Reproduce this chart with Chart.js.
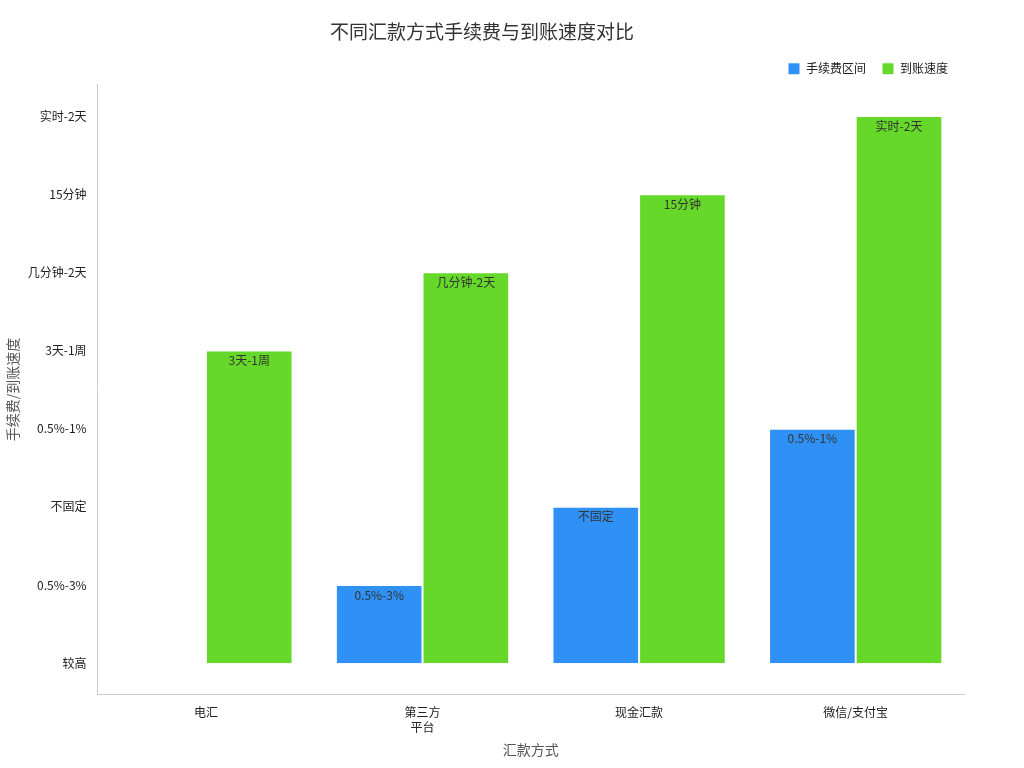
<!DOCTYPE html>
<html><head><meta charset="utf-8">
<script src="https://cdn.jsdelivr.net/npm/chart.js@4"></script>
<style>html,body{margin:0;background:#fff}#wrap{width:1024px;height:768px}</style>
</head><body><div id="wrap"><canvas id="c"></canvas></div>
<script>
const categories = [['电汇'], ['第三方', '平台'], ['现金汇款'], ['微信/支付宝']];
const levelLabels = ['较高', '0.5%-3%', '不固定', '0.5%-1%', '3天-1周', '几分钟-2天', '15分钟', '实时-2天'];
const feeValues = [0, 1, 2, 3];
const speedValues = [4, 5, 6, 7];
const font = "'Noto Sans CJK SC', 'Noto Sans', sans-serif";

const barLabels = {
  id: 'barLabels',
  afterDatasetsDraw(chart) {
    const ctx = chart.ctx;
    ctx.save();
    ctx.font = '12px ' + font;
    ctx.fillStyle = '#333';
    ctx.textAlign = 'center';
    ctx.textBaseline = 'top';
    chart.data.datasets.forEach((ds, i) => {
      chart.getDatasetMeta(i).data.forEach((bar, j) => {
        const v = ds.data[j];
        if (v <= 0) return;
        ctx.fillText(levelLabels[v], bar.x, bar.y + 4);
      });
    });
    ctx.restore();
  }
};

new Chart(document.getElementById('c'), {
  type: 'bar',
  data: {
    labels: categories,
    datasets: [
      { label: '手续费区间', data: feeValues, backgroundColor: '#2f90f5', borderColor: '#fff', borderWidth: 1 },
      { label: '到账速度', data: speedValues, backgroundColor: '#65d82a', borderColor: '#fff', borderWidth: 1 }
    ]
  },
  options: {
    responsive: true, maintainAspectRatio: false, animation: false,
    layout: { padding: { left: 0, right: 60, top: 10, bottom: 6 } },
    categoryPercentage: 0.8, barPercentage: 1,
    scales: {
      x: {
        grid: { display: false }, border: { color: '#ccc' },
        ticks: { color: '#222', font: { size: 12, family: font } },
        title: { display: true, text: '汇款方式', color: '#555', font: { size: 14, family: font } }
      },
      y: {
        min: -0.4, max: 7.4,
        afterBuildTicks: axis => { axis.ticks = levelLabels.map((_, i) => ({ value: i })); },
        grid: { display: false, drawTicks: true }, border: { color: '#ccc' },
        ticks: { color: '#222', font: { size: 12, family: font }, callback: v => levelLabels[v] },
        title: { display: true, text: '手续费/到账速度', color: '#555', font: { size: 14, family: font } }
      }
    },
    plugins: {
      title: { display: true, text: '不同汇款方式手续费与到账速度对比', color: '#333', font: { size: 19, weight: 'normal', family: font }, padding: { top: 10, bottom: 4 } },
      legend: { position: 'top', align: 'end', labels: { boxWidth: 12, boxHeight: 12, color: '#222', font: { size: 12, family: font }, padding: 16 } },
      tooltip: { enabled: false }
    }
  },
  plugins: [barLabels]
});
</script></body></html>
